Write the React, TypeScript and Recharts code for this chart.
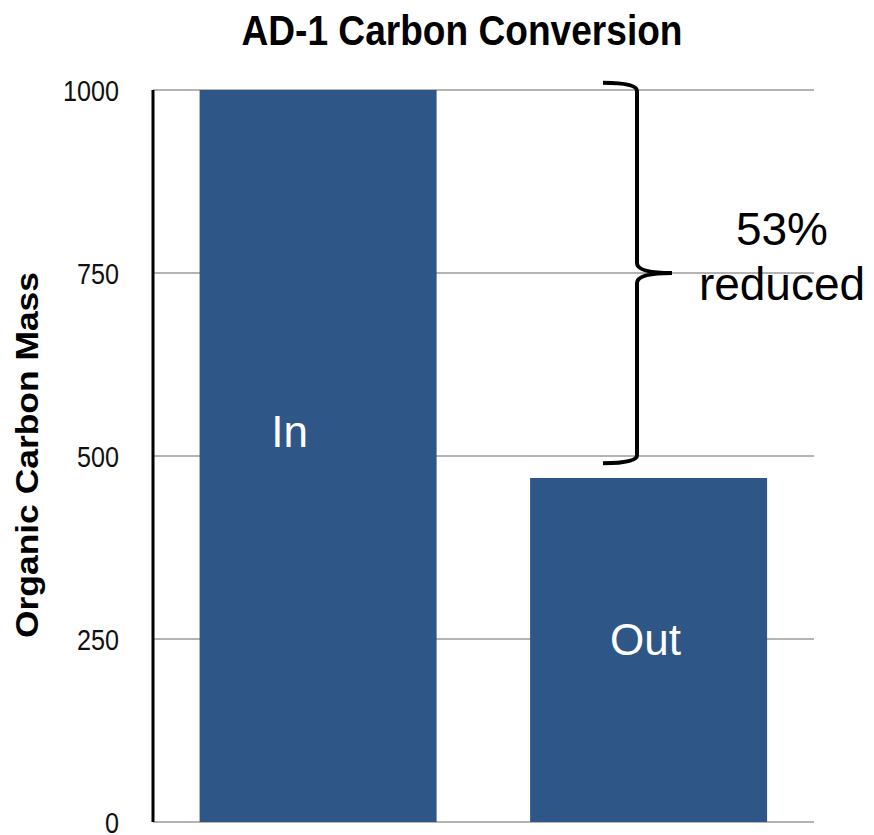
import React from 'react';
import {
  BarChart,
  Bar,
  XAxis,
  YAxis,
  CartesianGrid,
  ReferenceArea,
  LabelList,
} from 'recharts';

// Organic carbon mass entering and leaving the digester
const stages = ['In', 'Out'];
const carbonMass = [1000, 470];
const yTicks = [0, 250, 500, 750, 1000];
const chartTitle = 'AD-1 Carbon Conversion';
const yAxisTitle = 'Organic Carbon Mass';

const data = stages.map((stage, i) => ({ stage, mass: carbonMass[i] }));
const reductionPct = Math.round((1 - carbonMass[1] / carbonMass[0]) * 100);

const FONT = '"Liberation Sans", Arial, Helvetica, sans-serif';
const BAR_COLOR = '#2E5687';

// Placement of the white stage names inside each bar (fractions of the bar box)
const labelPlacement = [
  { fx: 0.38, fy: 0.488 },
  { fx: 0.487, fy: 0.516 },
];

const AxisTick = (props: any) => {
  const { x, y, payload } = props;
  return (
    <g transform={`translate(${x},${y}) scale(0.84,1)`}>
      <text
        x={0}
        y={0}
        dy={11}
        textAnchor="end"
        fontSize={30}
        fill="#111"
        fontFamily={FONT}
      >
        {payload.value}
      </text>
    </g>
  );
};

const StageLabel = (props: any) => {
  const { x, y, width, height, value, index } = props;
  const p = labelPlacement[index] || { fx: 0.5, fy: 0.5 };
  return (
    <text
      x={x + width * p.fx}
      y={y + height * p.fy}
      textAnchor="middle"
      fontSize={44}
      fill="#fff"
      fontFamily={FONT}
    >
      {value}
    </text>
  );
};

// Curly brace spanning the drop from In to Out, with the reduction note
const Brace = (props: any) => {
  const { x, y, height } = props;
  const spine = x + 484;
  const hook = spine - 34;
  const tip = spine + 35;
  const top = y;
  const bot = y + height;
  const mid = y + height / 2;
  const d = [
    `M ${hook} ${top}`,
    `Q ${spine} ${top} ${spine} ${top + 8}`,
    `L ${spine} ${mid - 10}`,
    `Q ${spine} ${mid} ${tip} ${mid}`,
    `Q ${spine} ${mid} ${spine} ${mid + 10}`,
    `L ${spine} ${bot - 8}`,
    `Q ${spine} ${bot} ${hook} ${bot}`,
  ].join(' ');
  const textX = spine + 145;
  return (
    <g>
      <path d={d} fill="none" stroke="#000" strokeWidth={4} strokeLinecap="butt" />
      <text x={textX} y={mid - 28} textAnchor="middle" fontSize={46} fill="#000" fontFamily={FONT}>
        {`${reductionPct}%`}
      </text>
      <text x={textX} y={mid + 27} textAnchor="middle" fontSize={46} fill="#000" fontFamily={FONT}>
        reduced
      </text>
    </g>
  );
};

export default function App() {
  return (
    <div style={{ position: 'absolute', left: 0, top: 0, width: 874, height: 835, background: '#fff' }}>
      <BarChart
        width={874}
        height={835}
        data={data}
        margin={{ top: 90, right: 60, bottom: 13, left: 0 }}
        barCategoryGap="14.1%"
      >
        <CartesianGrid vertical={false} stroke="#b4b4b4" strokeWidth={2} />
        <XAxis
          dataKey="stage"
          height={0}
          tick={false}
          tickLine={false}
          axisLine={{ stroke: '#000', strokeWidth: 3 }}
        />
        <YAxis
          width={153}
          domain={[0, 1000]}
          ticks={yTicks}
          interval={0}
          tickLine={false}
          tickSize={0}
          tickMargin={34}
          tick={<AxisTick />}
          axisLine={{ stroke: '#000', strokeWidth: 3 }}
        />
        <Bar dataKey="mass" fill={BAR_COLOR} isAnimationActive={false}>
          <LabelList dataKey="stage" content={<StageLabel />} />
        </Bar>
        <ReferenceArea
          y1={carbonMass[1] + 20}
          y2={carbonMass[0] + 10}
          ifOverflow="visible"
          shape={<Brace />}
        />
      </BarChart>
      <svg
        width={874}
        height={835}
        style={{ position: 'absolute', left: 0, top: 0, pointerEvents: 'none' }}
      >
        <text
          x={462}
          y={45}
          textAnchor="middle"
          fontSize={43}
          fontWeight="bold"
          fill="#000"
          fontFamily={FONT}
          textLength={441}
          lengthAdjust="spacingAndGlyphs"
        >
          {chartTitle}
        </text>
        <text
          transform="translate(38,455) rotate(-90)"
          textAnchor="middle"
          fontSize={31}
          fontWeight="bold"
          fill="#000"
          fontFamily={FONT}
          textLength={366}
          lengthAdjust="spacingAndGlyphs"
        >
          {yAxisTitle}
        </text>
      </svg>
    </div>
  );
}
